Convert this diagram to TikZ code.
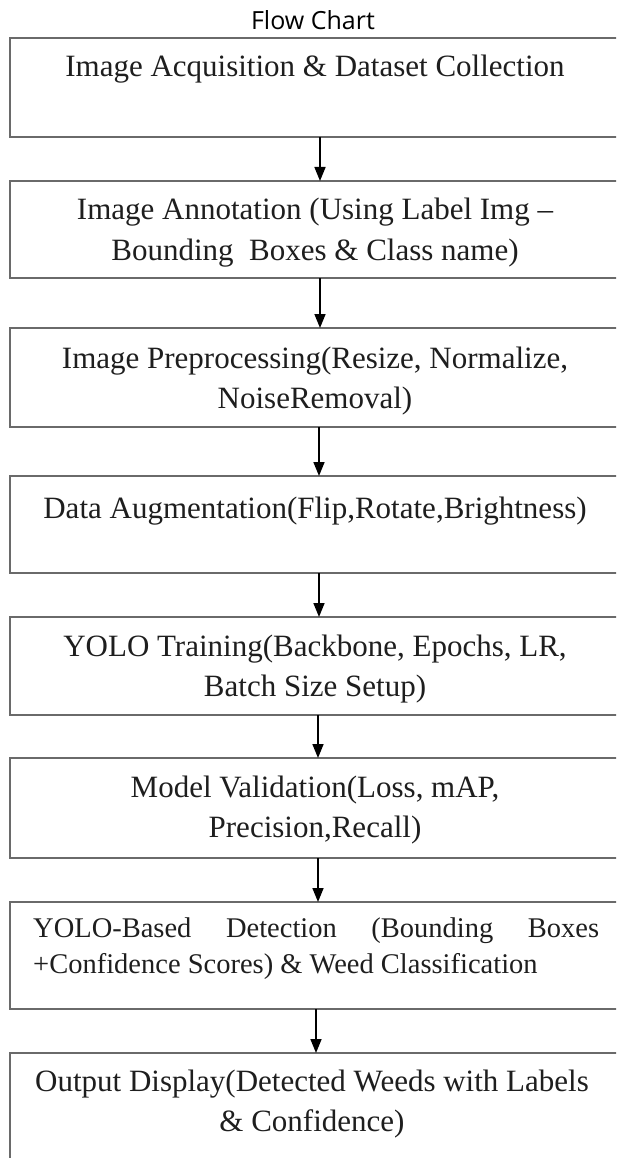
\documentclass[tikz,border=0pt]{standalone}
\usepackage{fontspec}
\setmainfont{Liberation Serif}
\newfontfamily\titlefont{Open Sans}
\usetikzlibrary{arrows.meta}
\definecolor{boxgray}{HTML}{6A6A6A}
\definecolor{txt}{HTML}{1E1E1E}
\begin{document}
\begin{tikzpicture}[x=1pt,y=-1pt,
  stepbox/.style={draw=boxgray, line width=2pt, minimum width=610pt, anchor=north west, inner sep=0pt, outer sep=0pt},
  lbl/.style={font=\fontsize{31}{40}\selectfont, text=txt, text width=600pt, align=flush center, anchor=base, inner sep=0pt},
  flow/.style={-{Triangle[width=11pt,length=14pt]}, line width=1.6pt, black},
]
\useasboundingbox (0,0) rectangle (616,1158);
\fill[white] (0,0) rectangle (616,1158);
\clip (0,0) rectangle (616,1158);

\node[font=\titlefont\fontsize{25}{29}\selectfont, anchor=base] (title) at (313,30) {Flow Chart};

\node[stepbox, minimum height=99pt] (b1) at (10,38) {};
\node[stepbox, minimum height=97pt] (b2) at (10,181) {};
\node[stepbox, minimum height=99pt] (b3) at (10,328) {};
\node[stepbox, minimum height=97pt] (b4) at (10,476) {};
\node[stepbox, minimum height=98pt] (b5) at (10,617) {};
\node[stepbox, minimum height=100pt] (b6) at (10,758) {};
\node[stepbox, minimum height=107pt] (b7) at (10,902) {};
\node[stepbox, minimum height=130pt] (b8) at (10,1053) {};

\node[lbl] (t1) at (315,77) {Image Acquisition \& Dataset Collection};
\node[lbl] (t2) at (315,220) {Image Annotation (Using Label Img --\\ Bounding\ \ Boxes \& Class name)};
\node[lbl] (t3) at (315,368) {Image Preprocessing(Resize, Normalize,\\ NoiseRemoval)};
\node[lbl] (t4) at (315,518) {Data Augmentation(Flip,Rotate,Brightness)};
\node[lbl] (t5) at (315,656) {YOLO Training(Backbone, Epochs, LR,\\ Batch Size Setup)};
\node[lbl] (t6) at (315,797) {Model Validation(Loss, mAP,\\ Precision,Recall)};
\node[lbl, font=\fontsize{28.5}{36}\selectfont, text width=566pt, align=justify, anchor=base west] (t7) at (33,937) {YOLO-Based Detection (Bounding Boxes\linebreak +Confidence Scores) \& Weed Classification};
\node[lbl] (t8) at (312,1091) {Output Display(Detected Weeds with Labels\\ \& Confidence)};

\draw[flow] ([xshift=5pt]b1.south) -- ([xshift=5pt]b2.north);
\draw[flow] ([xshift=5pt]b2.south) -- ([xshift=5pt]b3.north);
\draw[flow] ([xshift=4pt]b3.south) -- ([xshift=4pt]b4.north);
\draw[flow] ([xshift=4pt]b4.south) -- ([xshift=4pt]b5.north);
\draw[flow] ([xshift=3pt]b5.south) -- ([xshift=3pt]b6.north);
\draw[flow] ([xshift=3pt]b6.south) -- ([xshift=3pt]b7.north);
\draw[flow] ([xshift=1pt]b7.south) -- ([xshift=1pt]b8.north);
\end{tikzpicture}
\end{document}
